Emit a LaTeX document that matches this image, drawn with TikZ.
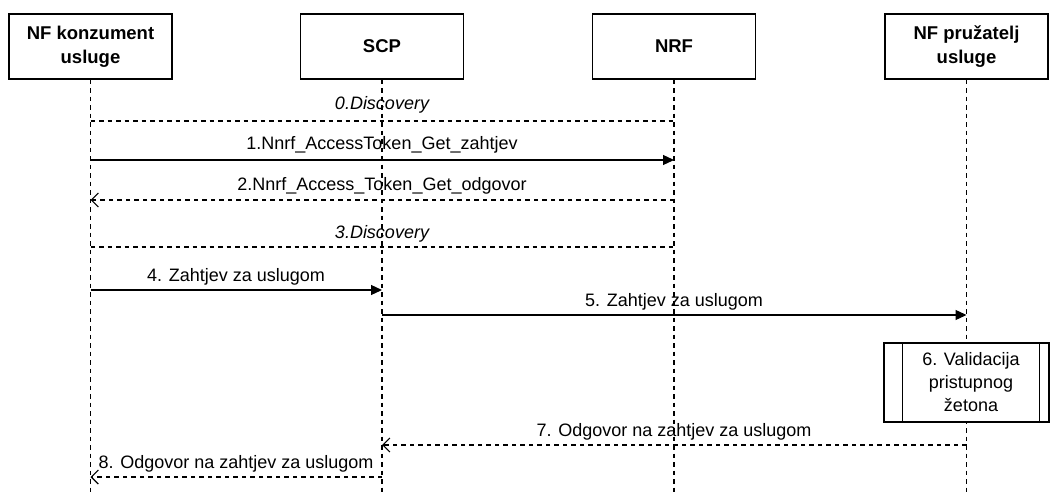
\documentclass[tikz,border=0pt]{standalone}
\usepackage{fontspec}
\setmainfont{Liberation Sans}
\usetikzlibrary{arrows.meta}
\begin{document}
\begin{tikzpicture}[x=1pt,y=-1pt,
  actor/.style={draw,line width=1.3pt,fill=white,minimum width=163pt,minimum height=65pt,inner sep=0pt,align=center,font=\fontsize{18.5}{24}\selectfont\bfseries},
  life/.style={line width=1.2pt,dash pattern=on 4.5pt off 4pt},
  msg/.style={line width=1.2pt,-{Triangle[length=11pt,width=10pt]}},
  reply/.style={line width=1.2pt,dash pattern=on 4.5pt off 4pt,-{Straight Barb[length=7pt,width=14pt,line width=1.2pt]}},
  disc/.style={line width=1.2pt,dash pattern=on 4.5pt off 4pt},
  lbl/.style={font=\fontsize{18}{20}\selectfont,inner sep=0pt,anchor=base}]
\useasboundingbox (0,0) rectangle (1051,497);
\node[actor] (a) at (90.5,46.5) {NF konzument\\usluge};
\node[actor] (b) at (382,46.5) {SCP};
\node[actor] (c) at (674,46.5) {NRF};
\node[actor] (d) at (966.5,46.5) {NF pružatelj\\usluge};
\coordinate (ae) at (90.5,493);
\coordinate (be) at (382,493);
\coordinate (ce) at (674,493);
\coordinate (de) at (966.5,493);
\draw[life] (a.south) -- (ae);
\draw[life] (b.south) -- (be);
\draw[life] (c.south) -- (ce);
\draw[life] (d.south) -- (de);
% messages
\draw[disc] (90.5,121) coordinate (m0a) -- (674,121) coordinate (m0b);
\node[lbl,font=\fontsize{18}{20}\selectfont\itshape] (l0) at (382,110) {0.Discovery};
\draw[msg] (90.5,160) coordinate (m1a) -- (674,160) coordinate (m1b);
\node[lbl] (l1) at (382,150) {1.Nnrf\_AccessToken\_Get\_zahtjev};
\draw[reply] (674,200) coordinate (m2a) -- (90.5,200) coordinate (m2b);
\node[lbl] (l2) at (382,190) {2.Nnrf\_Access\_Token\_Get\_odgovor};
\draw[disc] (90.5,247) coordinate (m3a) -- (674,247) coordinate (m3b);
\node[lbl,font=\fontsize{18}{20}\selectfont\itshape] (l3) at (382,238) {3.Discovery};
\draw[msg] (90.5,290) coordinate (m4a) -- (382,290) coordinate (m4b);
\node[lbl] (l4) at (236,281) {4. Zahtjev za uslugom};
\draw[msg] (382,315) coordinate (m5a) -- (966.5,315) coordinate (m5b);
\node[lbl] (l5) at (674,306) {5. Zahtjev za uslugom};
% process box
\node[draw,line width=1.3pt,fill=white,minimum width=165pt,minimum height=79pt,inner sep=0pt] (p) at (966.5,382.5) {};
\draw[line width=1.3pt] ([xshift=19pt]p.north west) -- ([xshift=19pt]p.south west);
\draw[line width=1.3pt] ([xshift=-10pt]p.north east) -- ([xshift=-10pt]p.south east);
\node[align=center,inner sep=0pt,font=\fontsize{18}{23}\selectfont] (pt) at (971,382.5) {6. Validacija\\pristupnog\\žetona};
\draw[reply] (966.5,445) coordinate (m7a) -- (382,445) coordinate (m7b);
\node[lbl] (l7) at (674,436) {7. Odgovor na zahtjev za uslugom};
\draw[reply] (382,477) coordinate (m8a) -- (90.5,477) coordinate (m8b);
\node[lbl] (l8) at (236,468) {8. Odgovor na zahtjev za uslugom};
\end{tikzpicture}
\end{document}
